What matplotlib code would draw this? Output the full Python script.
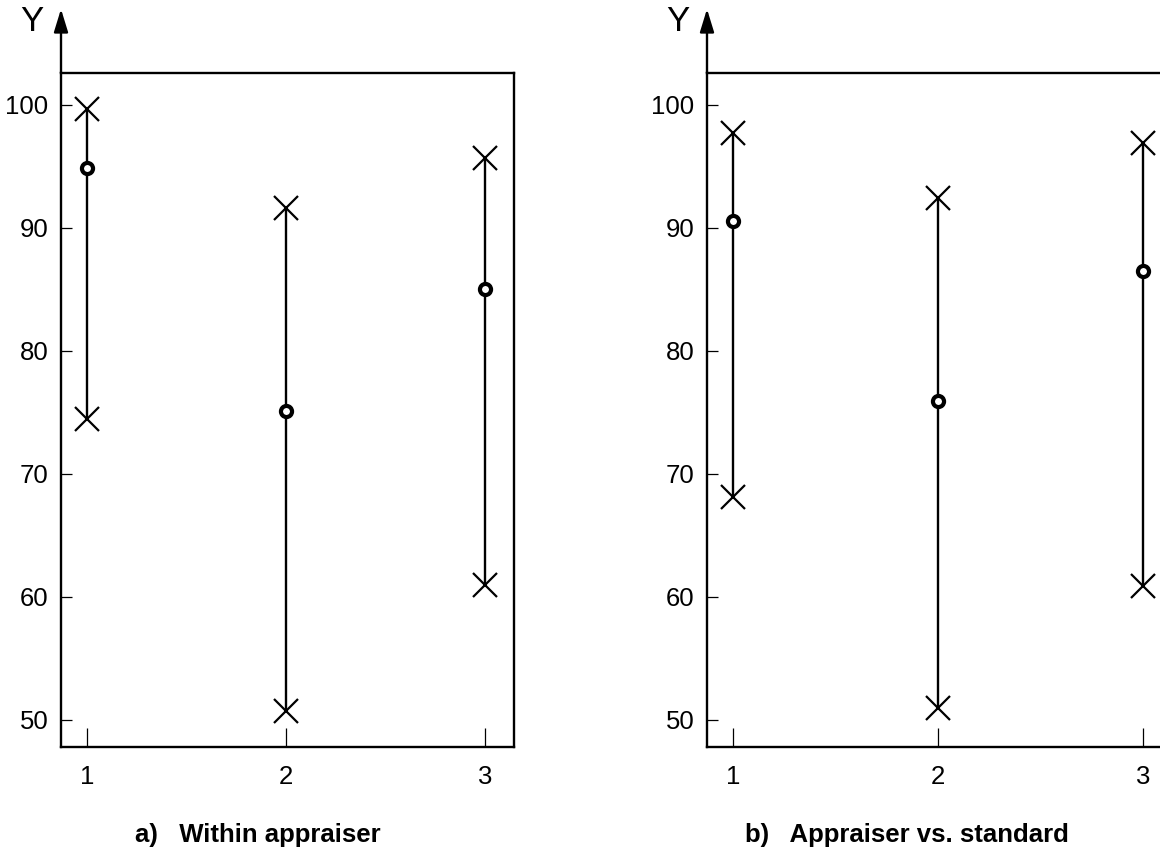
import matplotlib
matplotlib.use("Agg")
import matplotlib.pyplot as plt

plt.rcParams['font.family'] = ['Liberation Sans', 'DejaVu Sans']

groups = [1, 2, 3]
a_upper = [99.7, 91.6, 95.7]
a_lower = [74.5, 50.7, 61.0]
a_mid = [94.9, 75.1, 85.0]
b_upper = [97.7, 92.4, 96.9]
b_lower = [68.1, 51.0, 60.9]
b_mid = [90.6, 75.9, 86.5]
yticks = [50, 60, 70, 80, 90, 100]
captions = ["a)   Within appraiser", "b)   Appraiser vs. standard"]

W, H = 1160, 852
fig = plt.figure(figsize=(W / 100, H / 100), dpi=100)


def panel(left_px, width_px, xlim, upper, lower, mid):
    ax = fig.add_axes([left_px / W, 1 - 747 / H, width_px / W, 674 / H])
    ax.set_xlim(*xlim)
    ax.set_ylim(47.8, 102.6)
    for x, u, l, m in zip(groups, upper, lower, mid):
        ax.plot([x, x], [l, u], color='black', lw=1.7, zorder=2)
        ax.plot([x, x], [l, u], ls='none', marker='x', ms=17, mew=1.6,
                color='black', zorder=3)
        ax.plot([x], [m], ls='none', marker='o', ms=8.0, mew=3.0,
                mfc='white', mec='black', zorder=4)
    ax.set_xticks(groups)
    ax.set_xticklabels([str(g) for g in groups])
    ax.set_yticks(yticks)
    ax.tick_params(axis='both', direction='in', labelsize=18.5, width=0.9,
                   color='black')
    ax.tick_params(axis='x', length=14, pad=13)
    ax.tick_params(axis='y', length=8, pad=9)
    for s in ['left', 'bottom', 'top', 'right']:
        ax.spines[s].set_linewidth(1.7)
    # y-axis arrow
    ax.annotate('', xy=(0, (747 - 9) / 674), xytext=(0, 1.0),
                xycoords='axes fraction', textcoords='axes fraction',
                arrowprops=dict(arrowstyle='-|>,head_length=1.4,head_width=0.43',
                                color='black', lw=1.7, shrinkA=0, shrinkB=0),
                annotation_clip=False)
    ax.text((32 - 61) / width_px, (747 - 21) / 674, 'Y', transform=ax.transAxes,
            fontsize=25, ha='center', va='center', clip_on=False)
    return ax


panel(61, 453, (0.869, 3.146), a_upper, a_lower, a_mid)
panel(707, 466, (0.873, 3.146), b_upper, b_lower, b_mid)

fig.text(135 / W, 1 - 842 / H, captions[0], fontsize=18.5, fontweight='bold',
         ha='left', va='baseline')
fig.text(745 / W, 1 - 842 / H, captions[1], fontsize=18.5, fontweight='bold',
         ha='left', va='baseline')

fig.savefig('out.png', dpi=100)
